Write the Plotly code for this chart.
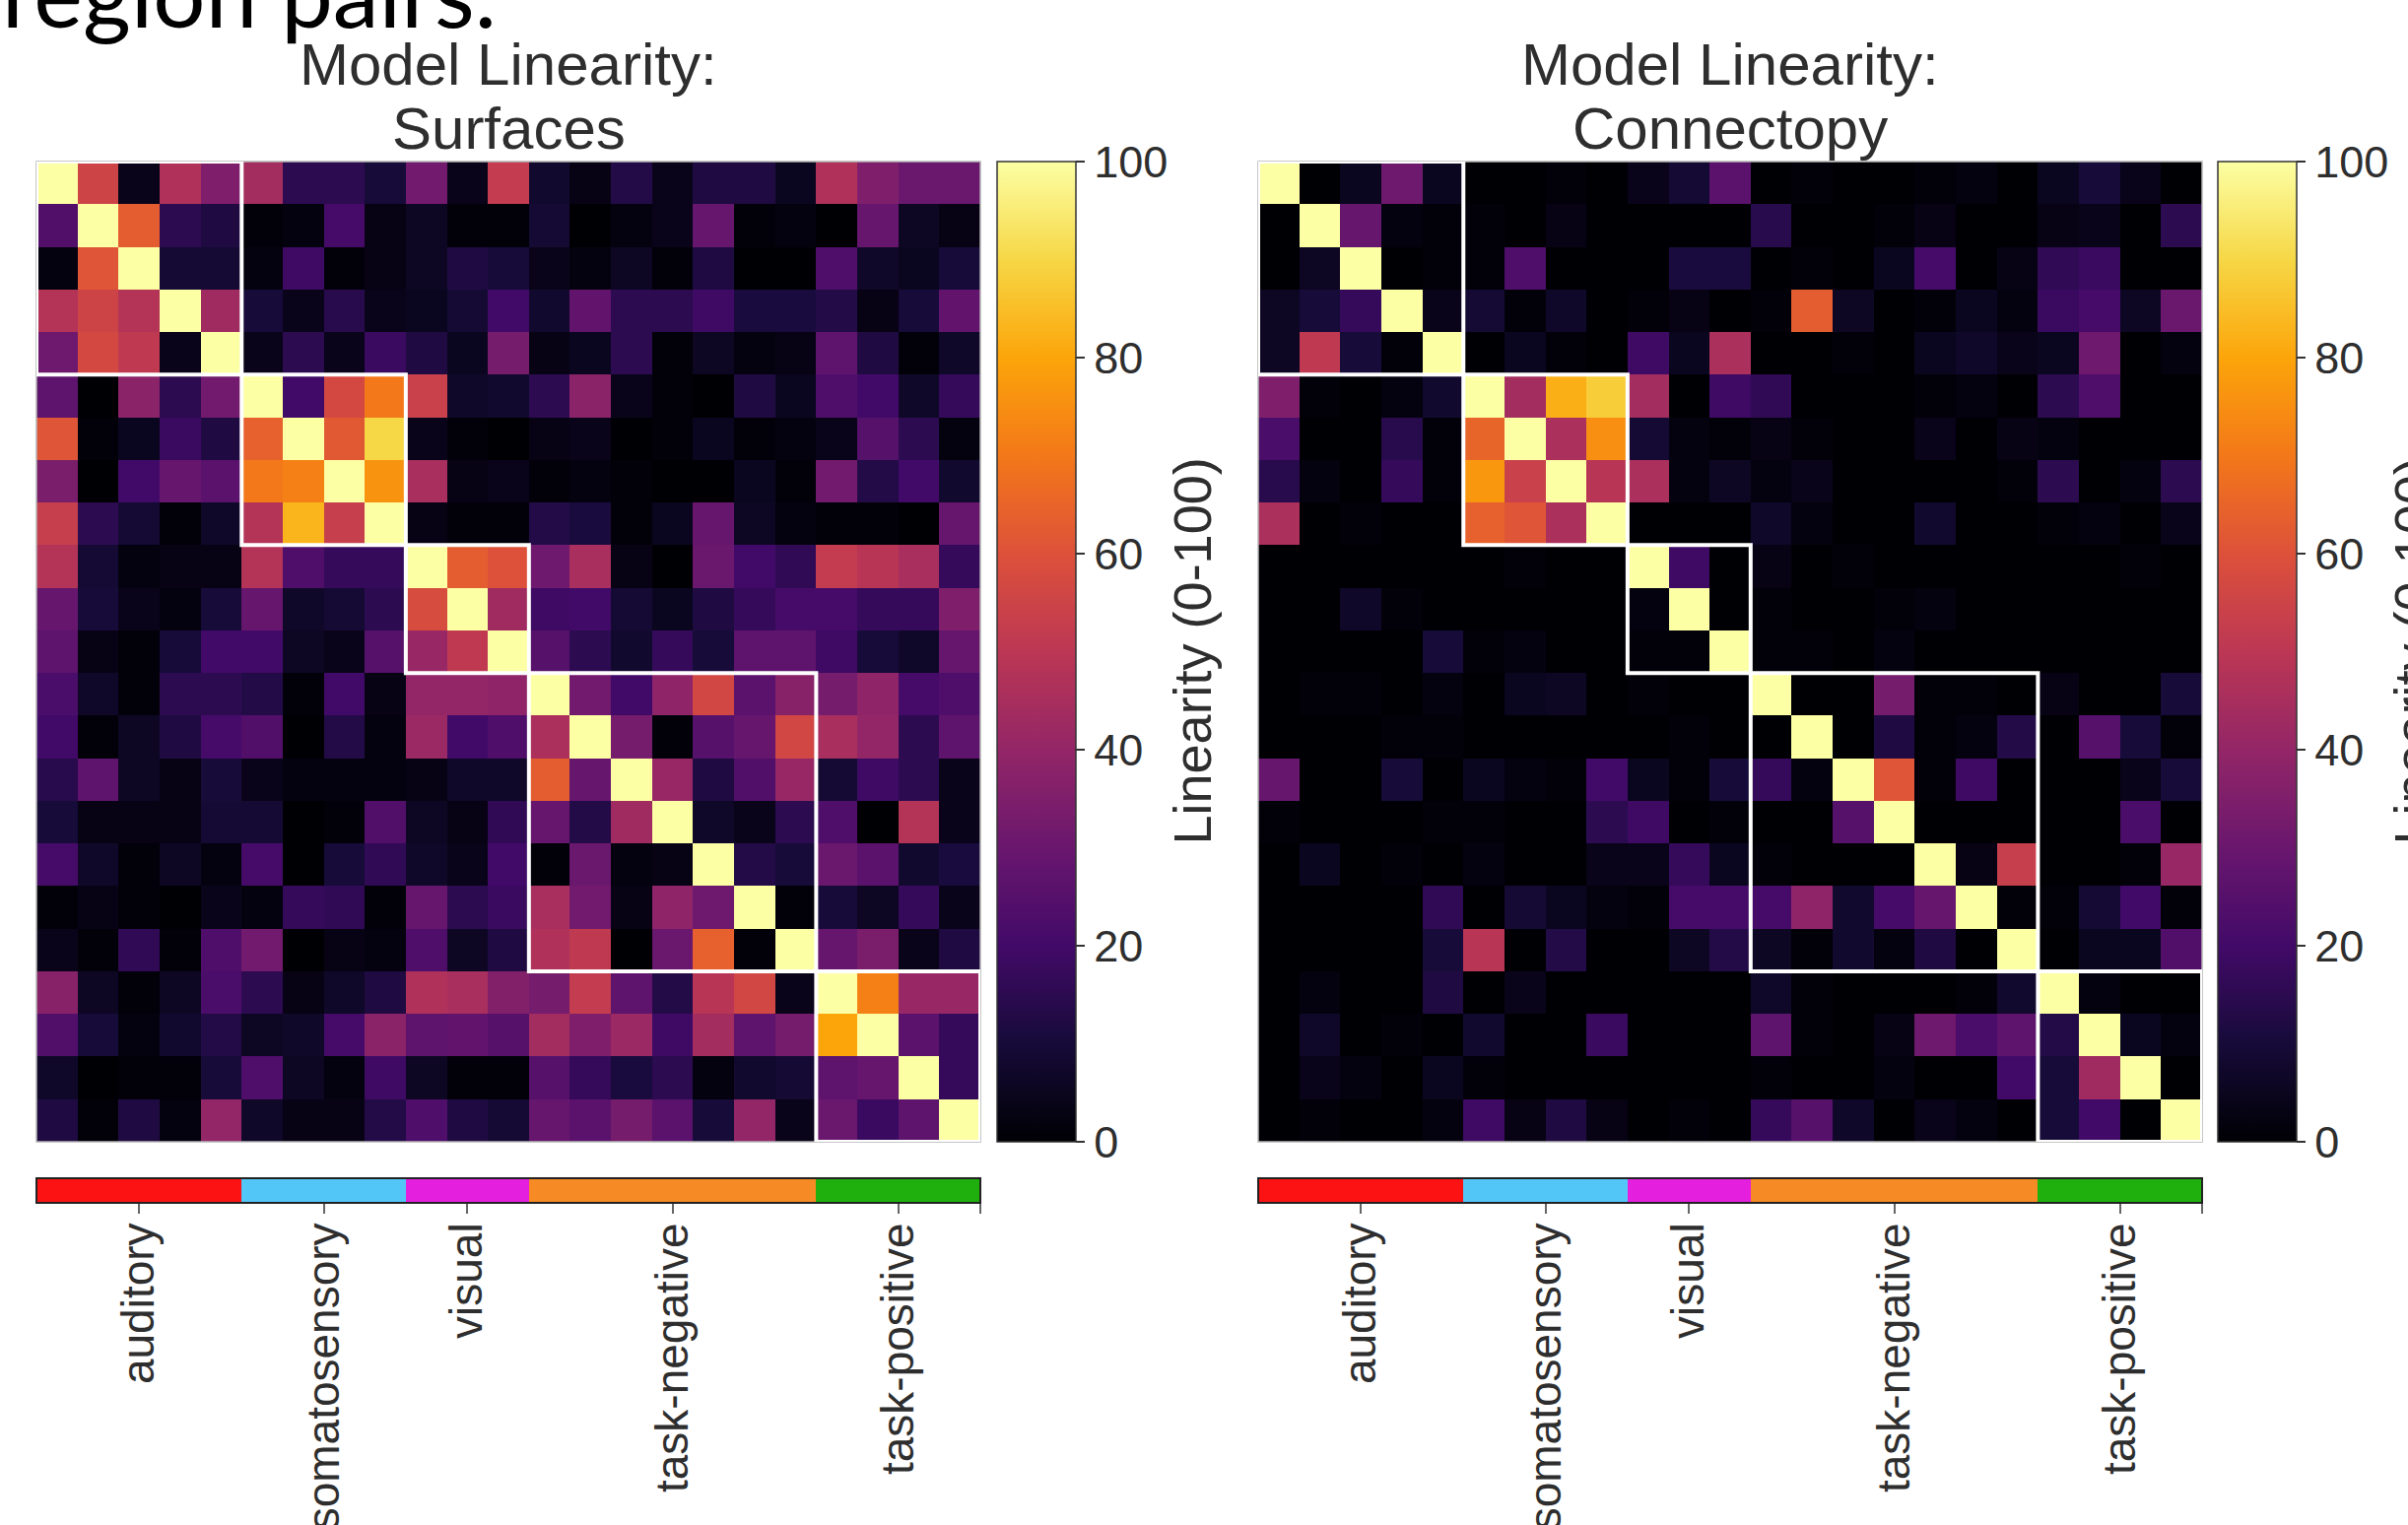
import plotly.graph_objects as go

# ---------------- data ----------------
groups = ["auditory", "somatosensory", "visual", "task-negative", "task-positive"]
group_sizes = [5, 4, 3, 7, 4]
group_colors = ["#fc1212", "#53c6f8", "#e51fde", "#f68a24", "#1fb00d"]

surfaces = [
    [100, 55, 4, 47, 35, 44, 15, 15, 10, 32, 4, 52, 8, 3, 13, 4, 12, 12, 5, 47, 35, 30, 30],
    [24, 100, 63, 15, 12, 1, 2, 21, 3, 6, 1, 1, 9, 0, 2, 4, 29, 1, 2, 0, 29, 6, 3],
    [2, 61, 100, 9, 9, 2, 19, 1, 3, 6, 12, 10, 4, 2, 6, 1, 12, 0, 0, 23, 7, 5, 10],
    [48, 55, 48, 100, 43, 10, 4, 14, 4, 5, 9, 20, 8, 28, 15, 15, 19, 11, 11, 13, 3, 10, 28],
    [31, 57, 51, 4, 100, 4, 15, 4, 18, 12, 5, 33, 3, 5, 15, 1, 6, 2, 3, 27, 12, 1, 7],
    [27, 0, 38, 15, 32, 100, 20, 57, 70, 54, 7, 8, 15, 38, 4, 1, 0, 12, 5, 23, 20, 7, 17],
    [61, 1, 5, 18, 12, 64, 100, 62, 90, 4, 1, 0, 3, 4, 0, 1, 5, 1, 2, 4, 25, 15, 2],
    [34, 0, 20, 29, 26, 70, 72, 100, 76, 45, 3, 4, 1, 2, 1, 0, 0, 5, 1, 32, 13, 20, 8],
    [53, 15, 9, 1, 7, 48, 83, 53, 100, 3, 1, 1, 13, 11, 1, 5, 29, 6, 2, 1, 1, 0, 29],
    [48, 9, 2, 3, 3, 48, 23, 17, 17, 100, 63, 60, 31, 45, 3, 0, 30, 20, 16, 52, 49, 45, 17],
    [29, 10, 4, 2, 10, 29, 7, 9, 15, 58, 100, 43, 19, 20, 9, 5, 12, 17, 21, 21, 17, 17, 35],
    [27, 3, 1, 10, 20, 20, 6, 4, 25, 41, 51, 100, 25, 15, 8, 17, 10, 27, 27, 19, 10, 7, 29],
    [22, 7, 1, 15, 15, 13, 1, 20, 3, 40, 40, 39, 100, 32, 20, 39, 56, 26, 37, 33, 39, 21, 23],
    [20, 1, 6, 12, 21, 24, 0, 13, 2, 42, 20, 23, 46, 100, 33, 1, 25, 29, 56, 45, 40, 15, 27],
    [14, 27, 6, 3, 10, 4, 2, 2, 2, 3, 7, 7, 63, 29, 100, 41, 12, 24, 41, 9, 19, 15, 4],
    [10, 3, 3, 3, 9, 9, 0, 1, 24, 6, 3, 16, 29, 13, 43, 100, 7, 4, 15, 23, 0, 48, 4],
    [21, 7, 1, 6, 2, 21, 0, 10, 16, 7, 4, 20, 1, 30, 2, 3, 100, 13, 10, 30, 26, 8, 11],
    [1, 3, 1, 0, 4, 2, 17, 16, 1, 29, 15, 18, 45, 32, 3, 39, 31, 100, 1, 10, 6, 17, 4],
    [4, 1, 16, 1, 23, 32, 0, 3, 2, 23, 6, 12, 47, 51, 0, 30, 64, 1, 100, 29, 34, 4, 12],
    [37, 6, 1, 6, 22, 15, 3, 7, 12, 47, 45, 36, 33, 52, 27, 13, 49, 56, 4, 100, 72, 41, 41],
    [24, 10, 2, 8, 13, 6, 7, 21, 38, 27, 28, 25, 44, 35, 42, 19, 44, 27, 33, 80, 100, 26, 17],
    [7, 0, 1, 1, 10, 23, 6, 2, 19, 6, 1, 1, 25, 17, 11, 15, 2, 8, 9, 27, 29, 100, 17],
    [12, 1, 12, 2, 40, 7, 3, 3, 13, 23, 12, 9, 29, 26, 33, 26, 10, 40, 4, 30, 18, 27, 100],
]

connectopy = [
    [100, 0, 5, 31, 5, 0, 0, 1, 0, 4, 9, 26, 0, 1, 0, 0, 1, 2, 0, 5, 10, 4, 0],
    [0, 100, 29, 2, 1, 1, 0, 3, 0, 0, 0, 0, 14, 0, 0, 1, 3, 0, 0, 3, 4, 0, 15],
    [0, 6, 100, 0, 1, 1, 23, 0, 0, 0, 11, 11, 0, 1, 0, 5, 21, 0, 3, 16, 18, 0, 0],
    [6, 10, 17, 100, 4, 9, 1, 7, 0, 1, 3, 0, 1, 63, 6, 0, 1, 5, 2, 18, 21, 6, 30],
    [6, 51, 10, 1, 100, 0, 5, 1, 0, 19, 5, 46, 0, 0, 1, 0, 5, 7, 4, 5, 31, 0, 2],
    [35, 1, 0, 2, 8, 100, 44, 82, 88, 44, 0, 19, 16, 0, 0, 0, 1, 2, 0, 15, 23, 0, 0],
    [22, 0, 0, 14, 1, 65, 100, 46, 75, 9, 2, 1, 3, 1, 0, 0, 4, 0, 3, 2, 0, 0, 0],
    [14, 2, 0, 17, 1, 77, 54, 100, 49, 46, 2, 6, 2, 4, 0, 0, 0, 0, 1, 15, 0, 2, 15],
    [46, 0, 1, 0, 0, 64, 61, 46, 100, 0, 0, 0, 7, 2, 0, 0, 8, 0, 0, 1, 2, 0, 4],
    [0, 0, 0, 0, 0, 0, 1, 0, 0, 100, 19, 0, 3, 0, 1, 0, 0, 0, 0, 0, 0, 1, 0],
    [0, 0, 7, 1, 0, 0, 0, 0, 0, 2, 100, 0, 1, 0, 0, 1, 2, 0, 0, 0, 0, 0, 0],
    [0, 0, 0, 0, 10, 1, 2, 0, 0, 1, 1, 100, 1, 1, 0, 2, 0, 0, 0, 0, 0, 0, 0],
    [0, 1, 1, 0, 2, 0, 5, 6, 0, 1, 0, 0, 100, 0, 0, 33, 1, 1, 0, 3, 0, 0, 10],
    [0, 0, 0, 1, 1, 0, 0, 0, 0, 0, 1, 0, 0, 100, 0, 12, 1, 2, 13, 0, 25, 10, 1],
    [29, 0, 0, 10, 0, 5, 2, 1, 20, 5, 1, 10, 17, 2, 100, 61, 1, 19, 0, 0, 0, 4, 10],
    [1, 0, 0, 0, 1, 1, 0, 0, 15, 19, 0, 1, 0, 0, 25, 100, 0, 0, 0, 0, 0, 22, 0],
    [0, 5, 0, 1, 0, 2, 0, 0, 4, 4, 17, 5, 1, 0, 0, 0, 100, 3, 53, 0, 0, 1, 41],
    [0, 0, 0, 0, 16, 0, 9, 5, 2, 1, 21, 21, 21, 39, 8, 21, 29, 100, 1, 1, 9, 20, 1],
    [0, 0, 0, 0, 10, 49, 0, 13, 0, 0, 6, 13, 6, 1, 8, 2, 12, 0, 100, 0, 5, 5, 24],
    [0, 2, 0, 0, 12, 0, 4, 0, 0, 0, 0, 0, 7, 1, 0, 0, 0, 1, 8, 100, 2, 0, 0],
    [0, 7, 0, 1, 0, 8, 0, 0, 18, 0, 0, 0, 27, 1, 0, 3, 31, 22, 27, 13, 100, 5, 2],
    [0, 4, 2, 0, 5, 1, 0, 0, 0, 0, 0, 0, 1, 0, 0, 2, 0, 0, 20, 10, 43, 100, 0],
    [0, 1, 0, 0, 2, 19, 3, 12, 3, 0, 1, 0, 17, 25, 7, 0, 4, 2, 0, 10, 20, 0, 100],
]

cbar_ticks = [0, 20, 40, 60, 80, 100]
panel_titles = [["Model Linearity:", "Surfaces"], ["Model Linearity:", "Connectopy"]]
cbar_title = "Linearity (0-100)"
header_text = "region pairs."

# ---------------- derived ----------------
n = sum(group_sizes)
idx = list(range(n))
starts = []
s = 0
for g in group_sizes:
    starts.append(s)
    s += g
group_of_cell = []
for gi, g in enumerate(group_sizes):
    group_of_cell += [gi] * g
centers = [st + (g - 1) / 2 for st, g in zip(starts, group_sizes)]

inferno = [
    [0.0, "#000004"], [0.1, "#160b39"], [0.2, "#420a68"], [0.3, "#6a176e"],
    [0.4, "#932667"], [0.5, "#bc3754"], [0.6, "#dd513a"], [0.7, "#f37819"],
    [0.8, "#fca50a"], [0.9, "#f6d746"], [1.0, "#fcffa4"],
]
k = len(groups)
strip_scale = []
for i, c in enumerate(group_colors):
    lo = max(0.0, (i - 0.5) / (k - 1))
    hi = min(1.0, (i + 0.5) / (k - 1))
    strip_scale += [[lo, c], [hi, c]]

W, H = 2444, 1548
def fx(p):
    return p / W
def fy(p):
    return 1 - p / H

FONT = "Liberation Sans, Arial, sans-serif"
TXT = "#2e2e2e"

heat_x = [(37, 995), (1277, 2235)]
heat_top, heat_bot = 164, 1159
strip_top, strip_bot = 1196, 1221
cbar_left = [1012, 2251]

fig = go.Figure()
mats = [surfaces, connectopy]
for p in range(2):
    fig.add_trace(go.Heatmap(
        z=mats[p], x=idx, y=idx, coloraxis="coloraxis" if p == 0 else "coloraxis2",
        xaxis="x" if p == 0 else "x2", yaxis="y" if p == 0 else "y2",
        zsmooth=False, hoverinfo="skip"))
    fig.add_trace(go.Heatmap(
        z=[group_of_cell], x=idx, y=[0], colorscale=strip_scale, zmin=0, zmax=k - 1,
        showscale=False, xaxis="x3" if p == 0 else "x4", yaxis="y3" if p == 0 else "y4",
        hoverinfo="skip"))

hidden = dict(visible=False, showgrid=False, zeroline=False)
layout = dict(
    width=W, height=H, margin=dict(l=0, r=0, t=0, b=0, autoexpand=False),
    paper_bgcolor="white", plot_bgcolor="white",
    font=dict(family=FONT, color=TXT),
    showlegend=False,
)
for p in range(2):
    xa = "xaxis" if p == 0 else "xaxis2"
    ya = "yaxis" if p == 0 else "yaxis2"
    sx = "xaxis3" if p == 0 else "xaxis4"
    sy = "yaxis3" if p == 0 else "yaxis4"
    dom = [fx(heat_x[p][0]), fx(heat_x[p][1])]
    layout[xa] = dict(domain=dom, range=[-0.5, n - 0.5], anchor="y" if p == 0 else "y2", **hidden)
    layout[ya] = dict(domain=[fy(heat_bot), fy(heat_top)], range=[n - 0.5, -0.5],
                      anchor="x" if p == 0 else "x2", **hidden)
    layout[sx] = dict(domain=dom, range=[-0.5, n - 0.5], anchor="y3" if p == 0 else "y4",
                      tickvals=centers + [n - 0.5], ticktext=groups + [""],
                      tickangle=-90, ticks="outside", ticklen=10, tickwidth=2, tickcolor="#666",
                      tickfont=dict(size=46, color=TXT, family=FONT),
                      showgrid=False, zeroline=False, showline=False, ticklabelstandoff=-9,
                      automargin=False)
    layout[sy] = dict(domain=[fy(strip_bot), fy(strip_top)], range=[-0.5, 0.5],
                      anchor="x3" if p == 0 else "x4", **hidden)
    ca = "coloraxis" if p == 0 else "coloraxis2"
    layout[ca] = dict(
        colorscale=inferno, cmin=0, cmax=100,
        colorbar=dict(
            x=fx(cbar_left[p]), xanchor="left", y=fy((heat_top + heat_bot) / 2), yanchor="middle",
            len=heat_bot - heat_top, lenmode="pixels", thickness=80, thicknessmode="pixels",
            xpad=0, ypad=0, outlinewidth=1.5, outlinecolor="#333",
            ticks="outside", ticklen=9, tickwidth=2, tickcolor="#333",
            tickvals=cbar_ticks, tickfont=dict(size=45, color=TXT, family=FONT),
        ))
fig.update_layout(**layout)

shapes = []
annotations = []
for p in range(2):
    xs = "x" if p == 0 else "x2"
    ys = "y" if p == 0 else "y2"
    shapes.append(dict(type="rect", xref=xs + " domain", yref=ys + " domain", x0=0, x1=1, y0=0, y1=1,
                       line=dict(color="#b5b5b5", width=1.5)))
    for st, g in zip(starts, group_sizes):
        shapes.append(dict(type="rect", xref=xs, yref=ys, x0=st - 0.5, x1=st + g - 0.5,
                           y0=st - 0.5, y1=st + g - 0.5, line=dict(color="white", width=4)))
    sxr = "x3" if p == 0 else "x4"
    syr = "y3" if p == 0 else "y4"
    shapes.append(dict(type="rect", xref=sxr + " domain", yref=syr + " domain", x0=0, x1=1, y0=0, y1=1,
                       line=dict(color="#222", width=2)))
    cx = (heat_x[p][0] + heat_x[p][1]) / 2
    for line_i, ypix in enumerate([66, 131]):
        annotations.append(dict(text=panel_titles[p][line_i], x=fx(cx), y=fy(ypix), xref="paper", yref="paper",
                                xanchor="center", yanchor="middle", showarrow=False,
                                font=dict(size=60, color=TXT, family=FONT)))
    annotations.append(dict(text=cbar_title, x=fx(cbar_left[p] + 197), y=fy((heat_top + heat_bot) / 2),
                            xref="paper", yref="paper", xanchor="center", yanchor="middle",
                            textangle=-90, showarrow=False, font=dict(size=54, color=TXT, family=FONT)))

annotations.append(dict(text=header_text, x=0, y=fy(50), xref="paper", yref="paper",
                        xanchor="left", yanchor="bottom", showarrow=False,
                        font=dict(size=94, color="black", family="Lato, Noto Sans, sans-serif")))
fig.update_layout(shapes=shapes, annotations=annotations)

fig.write_html("out.html", config={"displayModeBar": False},
               post_script="document.body.style.margin='0';document.body.style.overflow='hidden';")
